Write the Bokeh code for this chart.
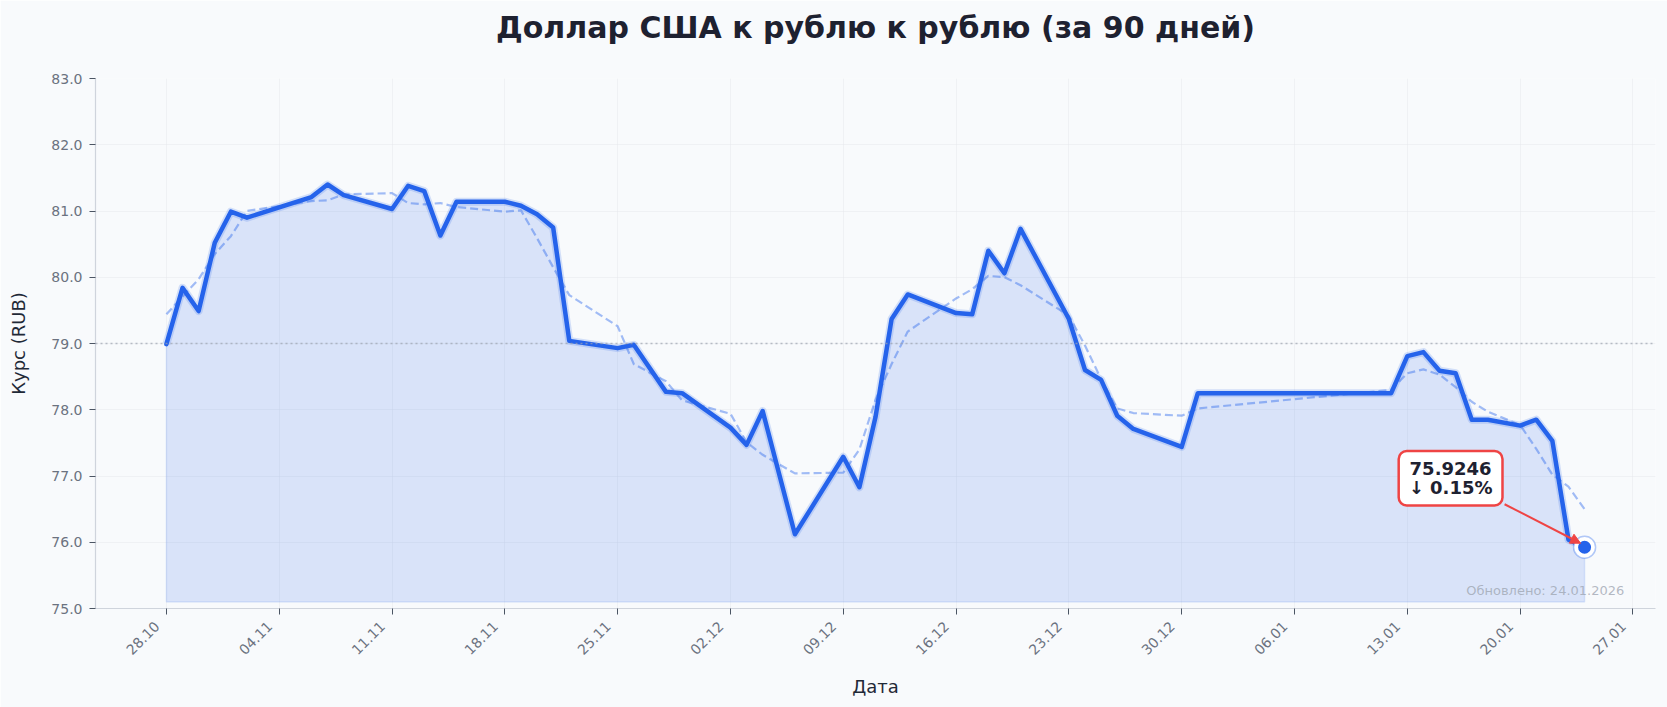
import math
import numpy as np
import pandas as pd
from bokeh.plotting import figure
from bokeh.models import (Range1d, FixedTicker, DatetimeTickFormatter, PrintfTickFormatter,
                          Label, Arrow, NormalHead, Span, LinearAxis)
from bokeh.embed import file_html
from bokeh.resources import INLINE

# ---------------- data ----------------
dates = ["2025-10-28", "2025-10-29", "2025-10-30", "2025-10-31", "2025-11-01", "2025-11-02",
         "2025-11-06", "2025-11-07", "2025-11-08", "2025-11-11", "2025-11-12", "2025-11-13",
         "2025-11-14", "2025-11-15", "2025-11-18", "2025-11-19", "2025-11-20", "2025-11-21",
         "2025-11-22", "2025-11-25", "2025-11-26", "2025-11-28", "2025-11-29", "2025-12-02",
         "2025-12-03", "2025-12-04", "2025-12-06", "2025-12-09", "2025-12-10", "2025-12-11",
         "2025-12-12", "2025-12-13", "2025-12-16", "2025-12-17", "2025-12-18", "2025-12-19",
         "2025-12-20", "2025-12-23", "2025-12-24", "2025-12-25", "2025-12-26", "2025-12-27",
         "2025-12-30", "2025-12-31", "2026-01-12", "2026-01-13", "2026-01-14", "2026-01-15",
         "2026-01-16", "2026-01-17", "2026-01-18", "2026-01-20", "2026-01-21", "2026-01-22",
         "2026-01-23", "2026-01-24"]

rates = [78.99, 79.84, 79.49, 80.52, 80.99, 80.90,
         81.21, 81.40, 81.24, 81.03, 81.38, 81.30,
         80.63, 81.14, 81.14, 81.08, 80.95, 80.75,
         79.04, 78.93, 78.98, 78.27, 78.25, 77.73,
         77.47, 77.98, 76.12, 77.29, 76.83, 77.89,
         79.37, 79.74, 79.46, 79.44, 80.40, 80.06,
         80.73, 79.37, 78.60, 78.45, 77.91, 77.71,
         77.44, 78.25, 78.25, 78.81, 78.87, 78.59,
         78.55, 77.85, 77.85, 77.76, 77.85, 77.53,
         76.0387, 75.9246]

# dashed moving-average line
moving_avg = [79.44, 79.71, 79.97, 80.35, 80.62, 81.00,
              81.15, 81.16, 81.25, 81.27, 81.12, 81.10,
              81.12, 81.06, 80.99, 81.01, 80.59, 80.15,
              79.73, 79.26, 78.69, 78.43, 78.14, 77.94,
              77.51, 77.32, 77.04, 77.05, 77.40, 78.15,
              78.69, 79.18, 79.68, 79.82, 80.02, 80.00,
              79.88, 79.42, 78.97, 78.46, 78.02, 77.95,
              77.91, 78.02, 78.30, 78.55, 78.61, 78.53,
              78.34, 78.12, 77.97, 77.77, 77.41, 77.02,
              76.84, 76.50]

x_tick_dates = ["2025-10-28", "2025-11-04", "2025-11-11", "2025-11-18", "2025-11-25",
                "2025-12-02", "2025-12-09", "2025-12-16", "2025-12-23", "2025-12-30",
                "2026-01-06", "2026-01-13", "2026-01-20", "2026-01-27"]
y_ticks = [75, 76, 77, 78, 79, 80, 81, 82, 83]

reference_level = 79.0
fill_base = 75.1
title_text = "Доллар США к рублю к рублю (за 90 дней)"
y_label = "Курс (RUB)"
x_label = "Дата"
badge_text = "75.9246\n↓ 0.15%"
updated_text = "Обновлено: 24.01.2026"

# ---------------- styling ----------------
BG = "#f8fafc"
BLUE = "#2563eb"
RED = "#ef4444"
FONT = "DejaVu Sans"

W, H = 1667, 707
MB_L, MB_R, MB_T, MB_B = 95, 12, 78, 99

def to_ms(strs):
    return pd.to_datetime(strs).values.astype("datetime64[ms]").astype("int64").astype(float)

x_ms = to_ms(dates)
tick_ms = to_ms(x_tick_dates)
span = x_ms[-1] - x_ms[0]
x_start = x_ms[0] - 0.05 * span
x_end = x_ms[-1] + 0.05 * span
y_start, y_end = y_ticks[0], y_ticks[-1]

p = figure(width=W, height=H, x_axis_type="datetime",
           x_range=Range1d(x_start, x_end), y_range=Range1d(y_start, y_end),
           output_backend="svg", toolbar_location=None,
           min_border_left=MB_L, min_border_right=MB_R,
           min_border_top=MB_T, min_border_bottom=MB_B,
           background_fill_color=BG, border_fill_color=BG, outline_line_color=None)

# grid
p.grid.grid_line_color = "#e5e7eb"
p.grid.grid_line_alpha = 0.45

xb = p.below[0]
yl = p.left[0]

# axes
for ax in (xb, yl):
    ax.axis_line_color = "#cfd4dc"
    ax.axis_line_width = 1.2
    ax.major_tick_line_color = "#4b5563"
    ax.major_tick_out = 6
    ax.major_tick_in = 0
    ax.minor_tick_line_color = None
    ax.major_label_text_font = FONT
    ax.major_label_text_font_size = "14px"
    ax.major_label_text_color = "#6b7280"
    ax.axis_label_text_font = FONT
    ax.axis_label_text_font_size = "18px"
    ax.axis_label_text_font_style = "normal"
    ax.axis_label_text_color = "#1f2937"

yl.ticker = FixedTicker(ticks=y_ticks)
yl.formatter = PrintfTickFormatter(format="%.1f")
yl.axis_label = y_label
yl.axis_label_standoff = 19
yl.major_label_standoff = 7

NB = "\u00a0\u00a0\u00a0"
xb.ticker = FixedTicker(ticks=list(tick_ms))
fmt = "%d.%m" + NB
xb.formatter = DatetimeTickFormatter(days=fmt, months=fmt, years=fmt, hours=fmt, minutes=fmt)
xb.major_label_orientation = math.pi / 4
xb.axis_label = x_label
xb.axis_label_standoff = 9
xb.major_label_standoff = 0

# title: an above-axis without ticks that carries the title as its label
title_axis = LinearAxis(ticker=FixedTicker(ticks=[]), axis_label=title_text,
                        axis_line_color=None, major_tick_line_color=None,
                        minor_tick_line_color=None, major_label_text_font_size="0px",
                        major_tick_out=0, major_tick_in=0, major_label_standoff=0,
                        axis_label_standoff=34, axis_label_text_font=FONT,
                        axis_label_text_font_size="30px", axis_label_text_font_style="bold",
                        axis_label_text_color="#1e2130")
p.add_layout(title_axis, "above")

# area fill
fx = list(x_ms) + [x_ms[-1], x_ms[0]]
fy = list(rates) + [fill_base, fill_base]
p.patch(fx, fy, fill_color=BLUE, fill_alpha=0.15, line_color=BLUE, line_alpha=0.12, line_width=1.5)

# reference level
p.add_layout(Span(location=reference_level, dimension="width", line_color="#9ca3af",
                  line_alpha=0.7, line_width=1.3, line_dash="2 3"))

# moving average
p.line(x_ms, moving_avg, line_color=BLUE, line_alpha=0.42, line_width=2.2, line_dash="8 4")

# main line
p.line(x_ms, rates, line_color=BLUE, line_alpha=0.18, line_width=8, line_join="round")
p.line(x_ms, rates, line_color=BLUE, line_width=4.5, line_join="round", line_cap="round")

# last point
p.scatter([x_ms[-1]], [rates[-1]], size=22, fill_color="white", line_color=BLUE,
          line_alpha=0.35, line_width=1.5)
p.scatter([x_ms[-1]], [rates[-1]], size=13, fill_color=BLUE, line_color=None)

# pixel -> data helpers
frame_w = W - MB_L - MB_R
frame_h = H - MB_T - MB_B
ms_per_px = (x_end - x_start) / frame_w
val_per_px = (y_end - y_start) / frame_h

p.add_layout(Arrow(x_start=x_ms[-1] - 80 * ms_per_px, y_start=rates[-1] + 43 * val_per_px,
                   x_end=x_ms[-1] - 4 * ms_per_px, y_end=rates[-1] + 4 * val_per_px,
                   line_color=RED, line_width=2,
                   end=NormalHead(size=10, fill_color=RED, line_color=RED)))

p.add_layout(Label(x=x_ms[-1], y=rates[-1], x_offset=-134, y_offset=69, text=badge_text,
                   text_align="center", text_baseline="middle", text_font=FONT,
                   text_font_size="18px", text_font_style="bold", text_color="#1e2130",
                   text_line_height=0.93,
                   background_fill_color="white", background_fill_alpha=1.0,
                   border_line_color=RED, border_line_width=2.5, border_radius=8,
                   padding=(10, 7)))

p.add_layout(Label(x=x_end - 0.02 * (x_end - x_start), y=y_start + 0.02 * (y_end - y_start),
                   text=updated_text, text_align="right", text_baseline="bottom",
                   text_font=FONT, text_font_size="13px", text_color="#9ca3af", text_alpha=0.75))

open("out.html", "w").write(file_html(p, INLINE))
